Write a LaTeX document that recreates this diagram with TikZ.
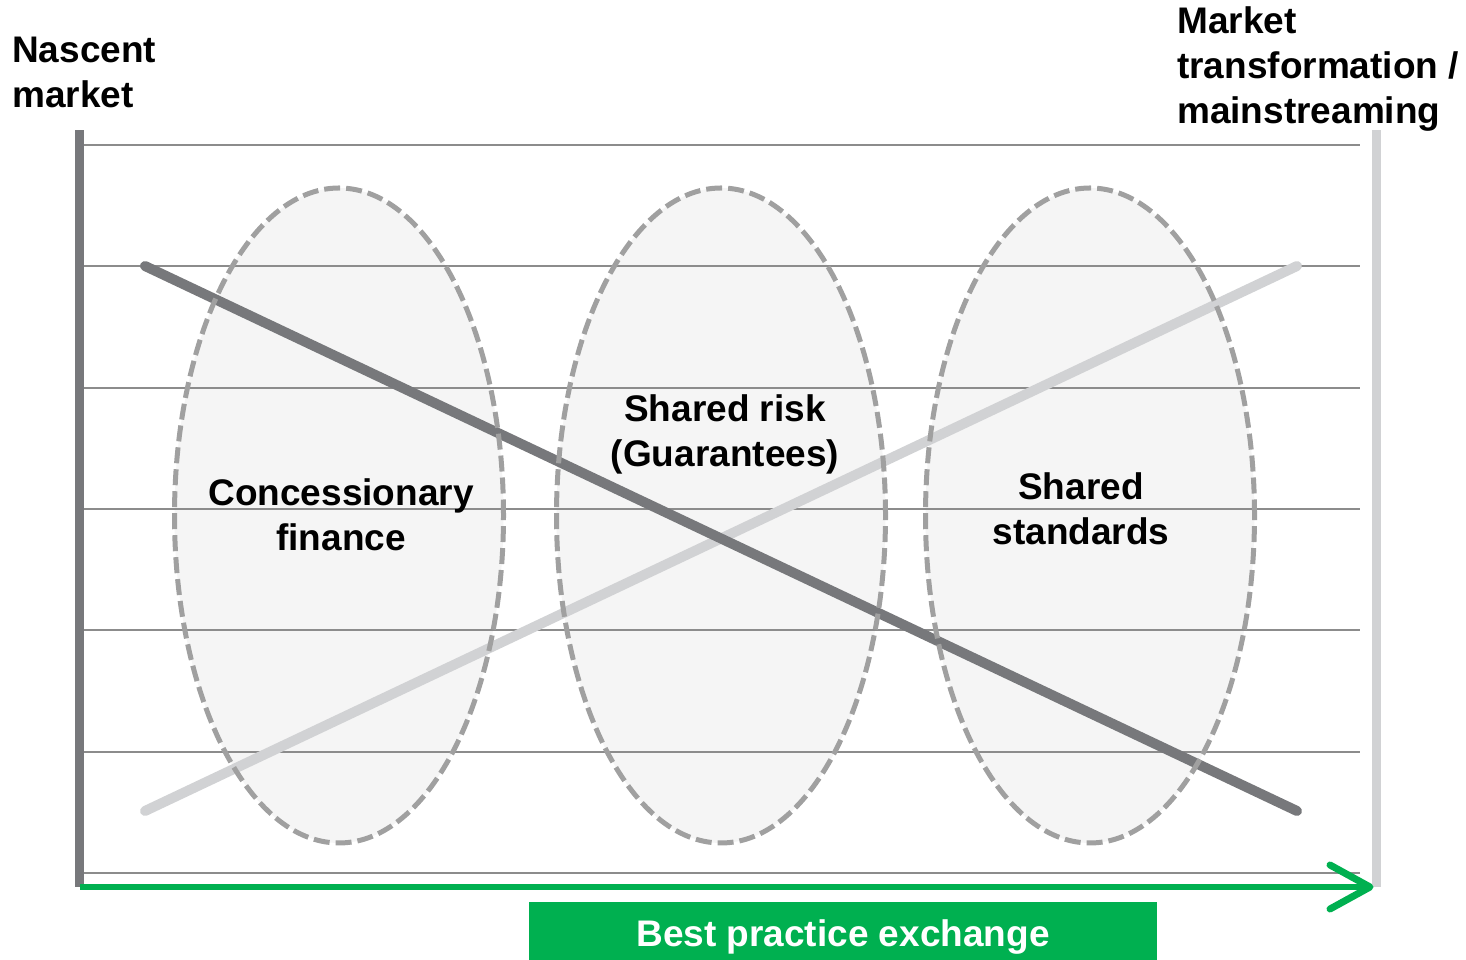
\documentclass[tikz,border=0pt]{standalone}
\usepackage{fontspec}
\setmainfont{Liberation Sans}
\definecolor{darkbar}{HTML}{77787B}
\definecolor{lightbar}{HTML}{D1D2D4}
\definecolor{gridgray}{HTML}{8C8C8C}
\definecolor{ovalfill}{HTML}{F5F5F5}
\definecolor{ovalline}{HTML}{A0A0A0}
\definecolor{bpgreen}{HTML}{00B050}

\begin{document}
\begin{tikzpicture}[x=1pt,y=1pt,
  bigtext/.style={font=\fontsize{37}{45}\selectfont\bfseries, inner sep=0pt},
  gridline/.style={gridgray, line width=1.8pt},
  oval/.style={ovalline, line width=5pt, dash pattern=on 16pt off 6pt},
  diag/.style={line width=10pt, line cap=round},
  greenline/.style={bpgreen, line width=6pt}]

\useasboundingbox (0,0) rectangle (1466,960);

% oval fills
\foreach \cx in {339,721,1090}
  \fill[ovalfill] (\cx,444.5) ellipse [x radius=164.5, y radius=327.5];

% horizontal lines
\foreach \k in {0,...,6}
  \draw[gridline] (84,{87+121.33*\k}) -- (1360,{87+121.33*\k});

% side bars
\draw[darkbar, line width=9pt] (79,73) -- (79,830);
\draw[lightbar, line width=9pt] (1376,73) -- (1376,830);

% diagonals
\draw[diag, lightbar] (145,149) -- (1297,694);
\draw[diag, darkbar] (145,694) -- (1297,149);

% oval borders
\foreach \cx in {339,721,1090}
  \draw[oval] (\cx,444.5) ellipse [x radius=164.5, y radius=327.5];

% green arrow
\draw[greenline] (80,73) -- (1370,73) coordinate (tip);
\draw[greenline, line width=7pt, line cap=round, line join=round] (tip) ++(-40,22) -- (tip) -- ++(-40,-22);

% green box
\fill[bpgreen] (529,0) rectangle (1157,58);
\node[bigtext, white] (bestpractice) at (843,23) {Best practice exchange};

\node[bigtext, align=center] (concession) at (341,445) {Concessionary\\finance};
\node[bigtext, align=center] (sharedrisk) at (725,526) {Shared risk\\(Guarantees)};
\node[bigtext, align=center] (standards) at (1081,451) {Shared\\standards};

\node[bigtext, align=left, anchor=north west] (nascent) at (12,923) {Nascent\\market};
\node[bigtext, align=left, anchor=north west] (mainstream) at (1177,953) {Market\\transformation /\\mainstreaming};

\end{tikzpicture}
\end{document}
